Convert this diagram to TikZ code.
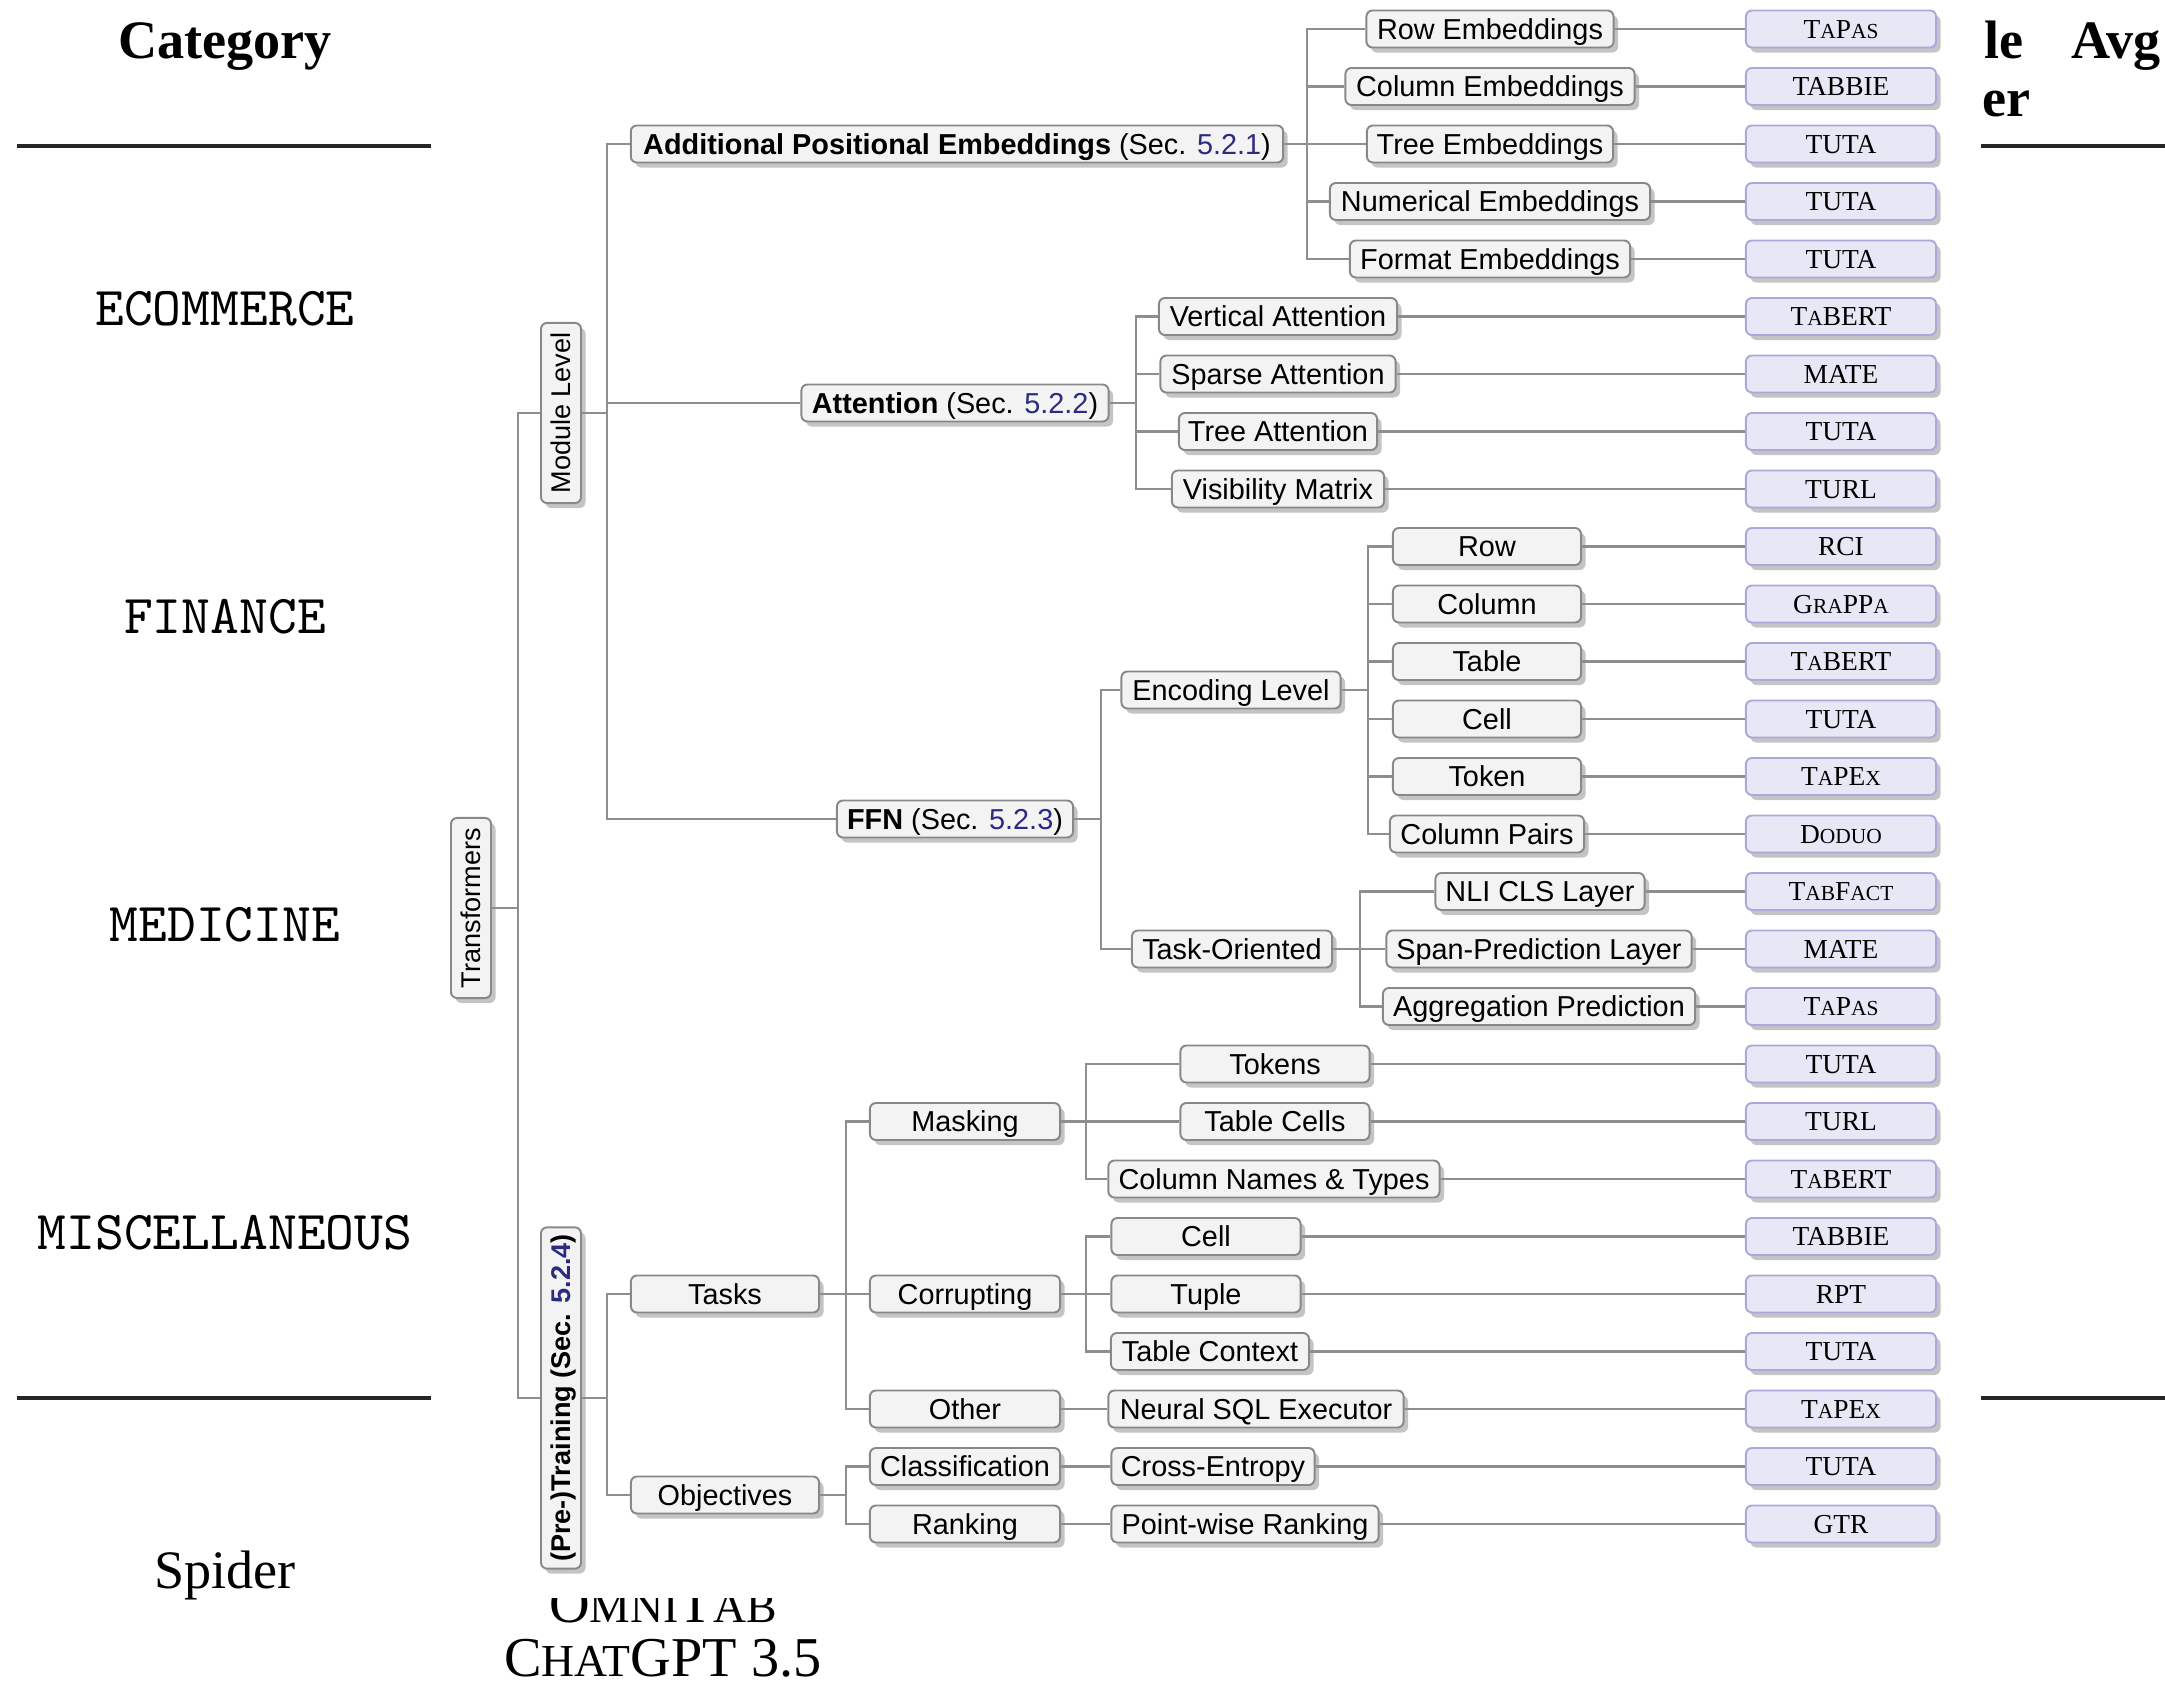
\documentclass[tikz,border=0pt]{standalone}
\usepackage{fontspec}
\setmainfont{Liberation Serif}
\newfontfamily\trsans{Liberation Sans}
\newfontfamily\trserif{Liberation Serif}
\newfontfamily\dsmono{lmmono10-regular}[Extension=.otf]
\usetikzlibrary{shadows}

\definecolor{edgegray}{HTML}{8E8E8E}
\definecolor{boxline}{HTML}{888888}
\definecolor{boxfill}{HTML}{F3F3F3}
\definecolor{refline}{HTML}{A9A9DB}
\definecolor{reffill}{HTML}{E7E7F6}
\definecolor{secblue}{HTML}{2B2B82}
\definecolor{shade}{HTML}{C4C4C4}

% smaller capitals for model names and table entries
\newcommand\fsc[1]{{\fontsize{6.1}{7}\selectfont #1}}
\newcommand\tsc[1]{{\fontsize{13}{15}\selectfont #1}}
% upright text turned to read bottom to top
\newcommand\vlab[1]{\rotatebox{90}{\raisebox{0pt}[0.19cm][0pt]{#1}}}

\begin{document}
\begin{tikzpicture}[x=0.01cm, y=-0.01cm,
  conn/.style={draw=edgegray, line width=0.65pt},
  rule/.style={draw=black!85, line width=0.9pt},
  shadowed/.style={drop shadow={shadow xshift=0.045cm, shadow yshift=-0.05cm, fill=shade, opacity=1}},
  tbox/.style={draw=boxline, fill=boxfill, line width=0.55pt, rounded corners=0.06cm,
    inner xsep=0.08cm, inner ysep=0pt, minimum height=0.37cm,
    text height=0.2cm, text depth=0pt, shadowed,
    font=\trsans\fontsize{8.2}{10}\selectfont},
  vbox/.style={draw=boxline, fill=boxfill, line width=0.55pt, rounded corners=0.06cm,
    inner sep=0pt, minimum width=0.40cm, shadowed,
    font=\trsans\fontsize{7.7}{9}\selectfont},
  ref/.style={draw=refline, fill=reffill, line width=0.55pt, rounded corners=0.06cm,
    inner sep=0pt, minimum width=1.90cm, minimum height=0.37cm,
    text height=0.18cm, text depth=0pt, shadowed,
    font=\trserif\fontsize{7.8}{9}\selectfont},
  hd/.style={anchor=base, inner sep=0pt, font=\trserif\bfseries\fontsize{15.4}{18}\selectfont},
  ds/.style={anchor=base, inner sep=0pt, font=\dsmono\fontsize{15.6}{18}\selectfont},
  tx/.style={anchor=base, inner sep=0pt, font=\trserif\fontsize{15.4}{18}\selectfont},
  tx2/.style={anchor=base, inner sep=0pt, font=\trserif\fontsize{16}{18}\selectfont}
]
\useasboundingbox (0,0) rectangle (2165,1684);

% ---- table behind the tree ----
\draw[rule] (17,146) -- (431,146);
\draw[rule] (1981,146) -- (2165,146);
\draw[rule] (17,1398) -- (431,1398);
\draw[rule] (1981,1398) -- (2165,1398);

\node[hd] (cat) at (225,58) {Category};
\node[hd, anchor=base west] (hle) at (1984,58) {le};
\node[hd, anchor=base west] (havg) at (2071,58) {Avg};
\node[hd, anchor=base west] (her) at (1982,116) {er};

\node[ds] (ecom) at (225,325) {ECOMMERCE};
\node[ds] (fin) at (225,633) {FINANCE};
\node[ds] (med) at (225,941) {MEDICINE};
\node[ds] (misc) at (225,1249) {MISCELLANEOUS};

\node[tx] (spider) at (225,1588) {Spider};
\node[tx2] (omni) at (663,1622) {O\tsc{MNI}T\tsc{AB}};
\node[tx2] (chat) at (663,1676) {C\tsc{HAT}GPT 3.5};

% the tree sits on its own white canvas
\fill[white] (431,0) rectangle (1981,1598);

% ---- bus lines of the tree ----
\coordinate (b0) at (518,0);
\coordinate (b1) at (607,0);
\coordinate (bA) at (1307,0);
\coordinate (bB) at (1136,0);
\coordinate (bC) at (1101,0);
\coordinate (bD) at (1368,0);
\coordinate (bE) at (1360,0);
\coordinate (bT) at (846,0);
\coordinate (bM) at (1086,0);

% ---- tree nodes ----
\node[vbox, minimum height=1.80cm] (trans) at (471,908) {\vlab{Transformers}};
\node[vbox, minimum height=1.80cm] (mod) at (561,413) {\vlab{Module Level}};
\node[vbox, minimum height=3.41cm] (pre) at (561,1398) {\vlab{\bfseries (Pre-)Training (Sec. \textcolor{secblue}{5.2.4})}};

\node[tbox, minimum width=6.52cm] (addpos) at (957,144) {\textbf{Additional Positional Embeddings} (Sec. \textcolor{secblue}{5.2.1})};
\node[tbox, minimum width=3.07cm] (att) at (955,403) {\textbf{Attention} (Sec. \textcolor{secblue}{5.2.2})};
\node[tbox, minimum width=2.36cm] (ffn) at (955,819) {\textbf{FFN} (Sec. \textcolor{secblue}{5.2.3})};

\node[tbox, minimum width=2.47cm] (rowemb) at (1490,29) {Row Embeddings};
\node[tbox, minimum width=2.89cm] (colemb) at (1490,86.5) {Column Embeddings};
\node[tbox, minimum width=2.46cm] (treeemb) at (1490,144) {Tree Embeddings};
\node[tbox, minimum width=3.20cm] (numemb) at (1490,201.5) {Numerical Embeddings};
\node[tbox, minimum width=2.80cm] (fmtemb) at (1490,259) {Format Embeddings};

\node[tbox, minimum width=2.38cm] (vatt) at (1278,316.5) {Vertical Attention};
\node[tbox, minimum width=2.35cm] (satt) at (1278,374) {Sparse Attention};
\node[tbox, minimum width=1.98cm] (tatt) at (1278,431.5) {Tree Attention};
\node[tbox, minimum width=2.12cm] (vism) at (1278,489) {Visibility Matrix};

\node[tbox, minimum width=2.19cm] (enc) at (1231,690) {Encoding Level};
\node[tbox, minimum width=2.00cm] (task) at (1232,949) {Task-Oriented};

\node[tbox, minimum width=1.88cm] (erow) at (1487,546.5) {Row};
\node[tbox, minimum width=1.88cm] (ecol) at (1487,604) {Column};
\node[tbox, minimum width=1.88cm] (etab) at (1487,661.5) {Table};
\node[tbox, minimum width=1.88cm] (ecell) at (1487,719) {Cell};
\node[tbox, minimum width=1.88cm] (etok) at (1487,776.5) {Token};
\node[tbox, minimum width=1.94cm] (epair) at (1487,834) {Column Pairs};

\node[tbox, minimum width=2.09cm] (nli) at (1540,891.5) {NLI CLS Layer};
\node[tbox, minimum width=3.05cm] (span) at (1539,949) {Span-Prediction Layer};
\node[tbox, minimum width=3.12cm] (aggr) at (1539,1006.5) {Aggregation Prediction};

\node[tbox, minimum width=1.88cm] (tasks) at (725,1294) {Tasks};
\node[tbox, minimum width=1.88cm] (obj) at (725,1495) {Objectives};

\node[tbox, minimum width=1.90cm] (mask) at (965,1121.5) {Masking};
\node[tbox, minimum width=1.90cm] (corr) at (965,1294) {Corrupting};
\node[tbox, minimum width=1.90cm] (other) at (965,1409) {Other};
\node[tbox, minimum width=1.90cm] (cls) at (965,1466.5) {Classification};
\node[tbox, minimum width=1.90cm] (rank) at (965,1524) {Ranking};

\node[tbox, minimum width=1.89cm] (mtok) at (1275,1064) {Tokens};
\node[tbox, minimum width=1.89cm] (mcell) at (1275,1121.5) {Table Cells};
\node[tbox, minimum width=3.31cm] (mcnt) at (1274,1179) {Column Names \& Types};

\node[tbox, minimum width=1.89cm] (ccell) at (1206,1236.5) {Cell};
\node[tbox, minimum width=1.89cm] (ctup) at (1206,1294) {Tuple};
\node[tbox, minimum width=1.98cm] (cctx) at (1210,1351.5) {Table Context};

\node[tbox, minimum width=2.95cm] (nse) at (1256,1409) {Neural SQL Executor};
\node[tbox, minimum width=2.03cm] (xent) at (1213,1466.5) {Cross-Entropy};
\node[tbox, minimum width=2.67cm] (pwr) at (1245,1524) {Point-wise Ranking};

% ---- model names ----
\foreach \t [count=\i from 0] in {
  {T\fsc{A}P\fsc{AS}}, {TABBIE}, {TUTA}, {TUTA}, {TUTA},
  {T\fsc{A}BERT}, {MATE}, {TUTA}, {TURL},
  {RCI}, {G\fsc{RA}PP\fsc{A}}, {T\fsc{A}BERT}, {TUTA}, {T\fsc{A}PE\fsc{X}}, {D\fsc{ODUO}},
  {T\fsc{AB}F\fsc{ACT}}, {MATE}, {T\fsc{A}P\fsc{AS}},
  {TUTA}, {TURL}, {T\fsc{A}BERT}, {TABBIE}, {RPT}, {TUTA},
  {T\fsc{A}PE\fsc{X}}, {TUTA}, {GTR}}
  \node[ref] (l\i) at (1841,{29+57.5*\i}) {\t};

% ---- connectors ----
\draw[conn] (trans.east) -- (trans.east -| b0) |- (mod.west);
\draw[conn] (trans.east -| b0) |- (pre.west);

\foreach \c in {addpos,att,ffn}
  \draw[conn] (mod.east) -- (mod.east -| b1) |- (\c.west);
\foreach \c in {rowemb,colemb,treeemb,numemb,fmtemb}
  \draw[conn] (addpos.east) -- (addpos.east -| bA) |- (\c.west);
\foreach \c in {vatt,satt,tatt,vism}
  \draw[conn] (att.east) -- (att.east -| bB) |- (\c.west);
\foreach \c in {enc,task}
  \draw[conn] (ffn.east) -- (ffn.east -| bC) |- (\c.west);
\foreach \c in {erow,ecol,etab,ecell,etok,epair}
  \draw[conn] (enc.east) -- (enc.east -| bD) |- (\c.west);
\foreach \c in {nli,span,aggr}
  \draw[conn] (task.east) -- (task.east -| bE) |- (\c.west);

\foreach \c in {tasks,obj}
  \draw[conn] (pre.east) -- (pre.east -| b1) |- (\c.west);
\foreach \c in {mask,corr,other}
  \draw[conn] (tasks.east) -- (tasks.east -| bT) |- (\c.west);
\foreach \c in {cls,rank}
  \draw[conn] (obj.east) -- (obj.east -| bT) |- (\c.west);
\foreach \c in {mtok,mcell,mcnt}
  \draw[conn] (mask.east) -- (mask.east -| bM) |- (\c.west);
\foreach \c in {ccell,ctup,cctx}
  \draw[conn] (corr.east) -- (corr.east -| bM) |- (\c.west);
\draw[conn] (other.east) -- (nse.west);
\draw[conn] (cls.east) -- (xent.west);
\draw[conn] (rank.east) -- (pwr.west);

\foreach \c/\l in {rowemb/l0,colemb/l1,treeemb/l2,numemb/l3,fmtemb/l4,
  vatt/l5,satt/l6,tatt/l7,vism/l8,
  erow/l9,ecol/l10,etab/l11,ecell/l12,etok/l13,epair/l14,
  nli/l15,span/l16,aggr/l17,
  mtok/l18,mcell/l19,mcnt/l20,ccell/l21,ctup/l22,cctx/l23,
  nse/l24,xent/l25,pwr/l26}
  \draw[conn] (\c.east) -- (\l.west);
\end{tikzpicture}
\end{document}
